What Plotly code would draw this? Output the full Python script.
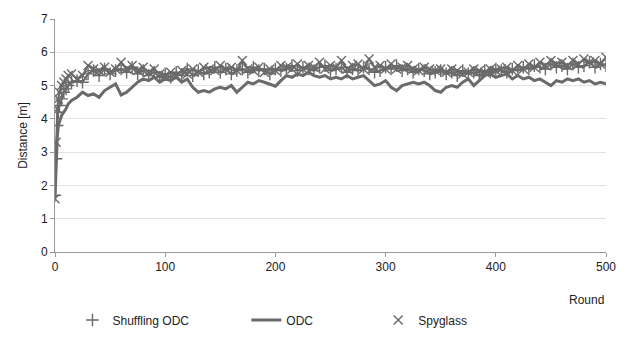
import plotly.graph_objects as go

rounds = [0, 1, 2, 3, 4, 6, 8, 10, 12, 15] + list(range(20, 505, 5))

odc = [1.65, 2.6, 3.4, 3.8, 3.9, 4.1, 4.2, 4.3, 4.45, 4.55,
       4.65, 4.8, 4.7, 4.75, 4.65, 4.85, 4.95, 5.05, 4.72, 4.8, 4.95, 5.1, 5.2, 5.15, 5.25, 5.1, 5.2,
       5.15, 5.25, 5.1, 5.2, 4.95, 4.8, 4.85, 4.8, 4.9, 4.95, 4.9, 5.0, 4.8, 4.95, 5.1, 5.05, 5.15, 5.1, 5.05, 4.98,
       5.15, 5.3, 5.25, 5.35, 5.3, 5.4, 5.3, 5.25, 5.3, 5.2, 5.25, 5.2, 5.3, 5.2, 5.25, 5.3, 5.15, 5.0, 5.05, 5.15,
       4.95, 4.85, 5.0, 5.05, 5.1, 5.05, 5.1, 5.0, 4.85, 4.8, 4.95, 5.0, 4.95, 5.1, 5.2, 5.0, 5.15, 5.3, 5.35, 5.25,
       5.3, 5.35, 5.2, 5.3, 5.2, 5.25, 5.15, 5.2, 5.1, 5.0, 5.15, 5.1, 5.2, 5.15, 5.2, 5.1, 5.15, 5.05, 5.1, 5.05]

spyglass = [1.6, 3.3, 4.3, 4.6, 4.8, 5.0, 5.1, 5.2, 5.3, 5.35,
            5.2, 5.3, 5.6, 5.5, 5.45, 5.55, 5.4, 5.5, 5.7, 5.5, 5.6, 5.45, 5.55, 5.4, 5.5, 5.35, 5.3,
            5.4, 5.3, 5.45, 5.35, 5.5, 5.4, 5.55, 5.5, 5.45, 5.6, 5.5, 5.55, 5.45, 5.75, 5.5, 5.45, 5.55, 5.4, 5.5, 5.45,
            5.6, 5.55, 5.5, 5.65, 5.5, 5.6, 5.55, 5.7, 5.5, 5.6, 5.55, 5.75, 5.5, 5.6, 5.65, 5.5, 5.8, 5.55, 5.6, 5.5,
            5.65, 5.5, 5.55, 5.6, 5.5, 5.45, 5.55, 5.5, 5.45, 5.5, 5.4, 5.5, 5.45, 5.35, 5.4, 5.5, 5.45, 5.4, 5.5, 5.45,
            5.5, 5.55, 5.45, 5.6, 5.5, 5.65, 5.55, 5.7, 5.6, 5.75, 5.65, 5.7, 5.6, 5.75, 5.65, 5.8, 5.7, 5.75, 5.65, 5.85]

shuffling = [1.7, 2.8, 3.8, 4.2, 4.4, 4.6, 4.8, 4.9, 5.0, 5.1,
             5.15, 5.1, 5.35, 5.45, 5.3, 5.5, 5.35, 5.45, 5.5, 5.4, 5.55, 5.35, 5.45, 5.3, 5.4, 5.25, 5.35,
             5.25, 5.4, 5.3, 5.5, 5.3, 5.45, 5.35, 5.4, 5.55, 5.4, 5.5, 5.35, 5.45, 5.5, 5.4, 5.55, 5.45, 5.5, 5.35, 5.5,
             5.45, 5.5, 5.6, 5.45, 5.55, 5.5, 5.45, 5.55, 5.6, 5.45, 5.5, 5.55, 5.4, 5.5, 5.45, 5.55, 5.5, 5.4, 5.45, 5.55,
             5.5, 5.6, 5.45, 5.5, 5.4, 5.5, 5.45, 5.35, 5.4, 5.45, 5.35, 5.4, 5.3, 5.45, 5.35, 5.4, 5.3, 5.45, 5.4, 5.5,
             5.45, 5.4, 5.5, 5.45, 5.55, 5.5, 5.6, 5.55, 5.5, 5.65, 5.55, 5.6, 5.5, 5.65, 5.55, 5.6, 5.7, 5.55, 5.65, 5.6]

GRAY = "#6a6a6a"
FONT = "Liberation Sans, Arial, sans-serif"

fig = go.Figure()
# connecting lines for the marker series (not in legend)
fig.add_trace(go.Scatter(x=rounds, y=shuffling, mode="lines", line=dict(color=GRAY, width=2),
                         showlegend=False, hoverinfo="skip"))
fig.add_trace(go.Scatter(x=rounds, y=spyglass, mode="lines", line=dict(color=GRAY, width=2),
                         showlegend=False, hoverinfo="skip"))
fig.add_trace(go.Scatter(x=rounds, y=shuffling, mode="markers", name="Shuffling ODC",
                         marker=dict(symbol="cross-thin-open", size=9, color=GRAY,
                                     line=dict(color=GRAY, width=1.4)),
                         legend="legend"))
fig.add_trace(go.Scatter(x=rounds, y=odc, mode="lines", name="ODC",
                         line=dict(color=GRAY, width=3), legend="legend2"))
fig.add_trace(go.Scatter(x=rounds, y=spyglass, mode="markers", name="Spyglass",
                         marker=dict(symbol="x-thin-open", size=9, color=GRAY,
                                     line=dict(color=GRAY, width=1.4)),
                         legend="legend3"))

leg_common = dict(orientation="h", yanchor="middle", y=-0.292, xanchor="left",
                  font=dict(family=FONT, size=12, color="#222"), bgcolor="rgba(0,0,0,0)",
                  itemwidth=30)

fig.update_layout(
    width=635, height=346,
    margin=dict(l=54.5, r=29, t=13.5, b=92.5),
    paper_bgcolor="white", plot_bgcolor="white",
    font=dict(family=FONT, size=12, color="#222"),
    legend=dict(leg_common, x=(72 - 54.5) / 551.5),
    legend2=dict(leg_common, x=(246 - 54.5) / 551.5),
    legend3=dict(leg_common, x=(378 - 54.5) / 551.5),
    xaxis=dict(range=[0, 500], dtick=100, showgrid=False, showline=True, linecolor="#999",
               linewidth=1, ticks="outside", ticklen=4, tickcolor="#999", zeroline=False,
               tickfont=dict(size=12, color="#222")),
    yaxis=dict(range=[0, 7], dtick=1, showgrid=True, gridcolor="#e2e2e2", gridwidth=1,
               showline=True, linecolor="#999", linewidth=1, ticks="outside", ticklen=4,
               tickcolor="#999", zeroline=False, tickfont=dict(size=12, color="#222"),
               title=dict(text="Distance [m]", font=dict(size=12, color="#222"), standoff=10)),
    annotations=[dict(text="Round", x=500, y=-0.205, xref="x", yref="paper", xanchor="right",
                      yanchor="middle", showarrow=False, font=dict(size=12, color="#222"))],
)

fig.write_html("out.html")
